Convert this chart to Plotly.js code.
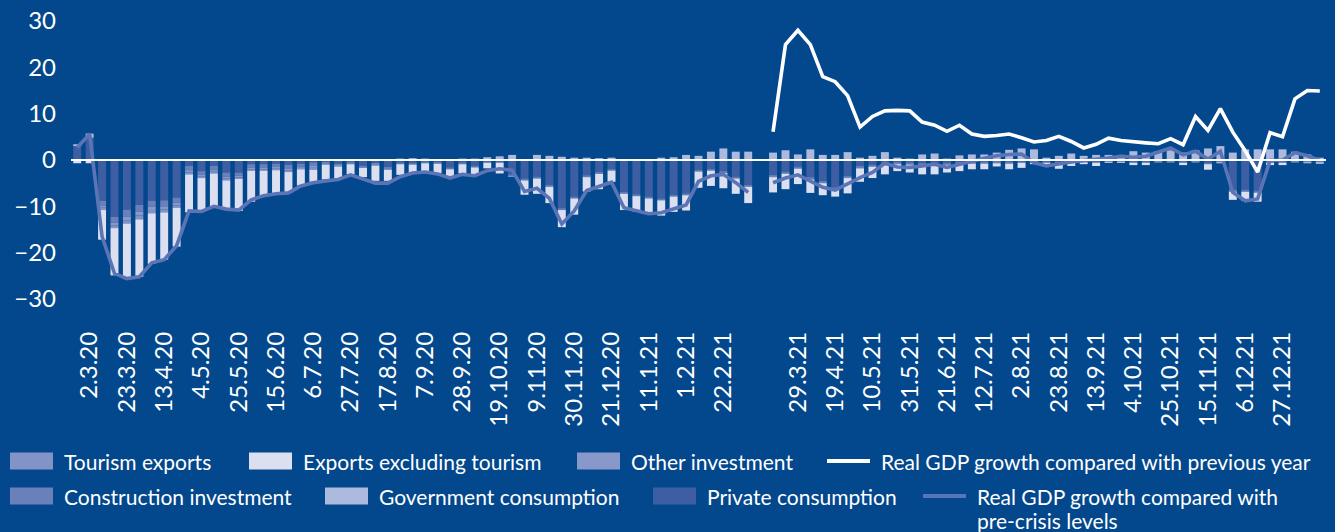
<!DOCTYPE html>
<html>
<head>
<meta charset="utf-8">
<script src="https://cdn.plot.ly/plotly-3.0.1.min.js"></script>
<style>
html,body{margin:0;padding:0;background:#03478c;}
#chart{width:1335px;height:532px;}
</style>
</head>
<body>
<div id="chart"></div>
<script>
// ---- categories (weekly, with one empty slot separating the two comparison periods) ----
const weeks = [
 '24.2.20','2.3.20','9.3.20','16.3.20','23.3.20','30.3.20','6.4.20','13.4.20','20.4.20','27.4.20',
 '4.5.20','11.5.20','18.5.20','25.5.20','1.6.20','8.6.20','15.6.20','22.6.20','29.6.20','6.7.20',
 '13.7.20','20.7.20','27.7.20','3.8.20','10.8.20','17.8.20','24.8.20','31.8.20','7.9.20','14.9.20',
 '21.9.20','28.9.20','5.10.20','12.10.20','19.10.20','26.10.20','2.11.20','9.11.20','16.11.20','23.11.20',
 '30.11.20','7.12.20','14.12.20','21.12.20','28.12.20','4.1.21','11.1.21','18.1.21','25.1.21','1.2.21',
 '8.2.21','15.2.21','22.2.21','1.3.21','8.3.21','gap','15.3.21','22.3.21','29.3.21','5.4.21',
 '12.4.21','19.4.21','26.4.21','3.5.21','10.5.21','17.5.21','24.5.21','31.5.21','7.6.21','14.6.21',
 '21.6.21','28.6.21','5.7.21','12.7.21','19.7.21','26.7.21','2.8.21','9.8.21','16.8.21','23.8.21',
 '30.8.21','6.9.21','13.9.21','20.9.21','27.9.21','4.10.21','11.10.21','18.10.21','25.10.21','1.11.21',
 '8.11.21','15.11.21','22.11.21','29.11.21','6.12.21','13.12.21','20.12.21','27.12.21','3.1.22','10.1.22',
 '17.1.22'
];
const tickLabels = [
 '2.3.20','23.3.20','13.4.20','4.5.20','25.5.20','15.6.20','6.7.20','27.7.20','17.8.20','7.9.20',
 '28.9.20','19.10.20','9.11.20','30.11.20','21.12.20','11.1.21','1.2.21','22.2.21',
 '29.3.21','19.4.21','10.5.21','31.5.21','21.6.21','12.7.21','2.8.21','23.8.21','13.9.21','4.10.21',
 '25.10.21','15.11.21','6.12.21','27.12.21'
];

// ---- series (contributions, percentage points) ----
const privateConsumption = [
 3.0,4.8,-8.8,-12.3,-10.7,-9.7,-8.8,-8.7,-8.1,-1.3,
 -2.4,-1.3,-2.7,-2.7,-0.9,-0.9,-0.8,-1.0,-0.8,-0.5,
 -0.4,-0.8,-0.3,-1.2,-0.6,-1.5,-0.5,-0.6,-0.3,-0.4,
 -1.6,-0.5,-1.2,-0.3,-0.3,-3.1,-4.0,-3.6,-5.4,-10.4,
 -7.9,-3.3,-2.6,-1.9,-6.9,-7.4,-7.9,-8.3,-7.5,-7.2,
 -2.1,-1.9,-2.4,-3.6,-5.4,null,-3.2,-2.5,-1.4,-3.7,
 -4.5,-5.9,-3.4,-1.3,-1.0,-0.6,-0.4,-0.5,-0.6,-0.6,
 -0.6,-0.4,-0.3,-0.3,-0.2,-0.3,-0.3,-0.2,-0.3,-0.4,
 -0.3,-0.2,-0.3,-0.1,-0.1,-0.3,-0.3,-0.1,-0.1,-0.3,
 -0.1,-0.6,-0.2,-6.4,-6.4,-6.6,-0.3,-0.3,-0.1,-0.2,
 -0.2
];
const constructionInvestment = [
 0,0,-1.0,-1.2,-1.5,-1.5,-1.3,-1.3,-1.1,-0.9,
 -0.8,-0.8,-0.9,-0.7,-0.7,-0.7,-0.7,-0.8,-0.6,-0.8,
 -0.3,-0.3,-0.3,-0.3,-0.3,-0.3,-0.2,-0.2,-0.2,-0.2,
 -0.2,-0.2,-0.2,-0.1,-0.1,-0.2,-0.2,-0.2,-0.2,-0.2,
 -0.2,-0.2,-0.2,-0.2,-0.2,-0.2,-0.2,-0.2,-0.2,-0.2,
 -0.2,-0.2,-0.2,-0.2,-0.2,null,-0.2,-0.2,-0.2,-0.2,
 -0.2,-0.2,-0.2,-0.2,-0.2,-0.2,-0.2,-0.2,-0.2,-0.2,
 -0.2,-0.2,-0.2,-0.2,-0.2,-0.2,-0.1,-0.1,-0.1,-0.1,
 -0.1,-0.1,-0.1,-0.1,-0.1,-0.1,-0.1,-0.1,-0.1,-0.1,
 -0.1,-0.1,-0.1,-0.2,-0.2,-0.2,-0.1,-0.1,-0.1,-0.1,
 -0.1
];
const otherInvestment = [
 0,0,-0.5,-0.6,-0.8,-0.8,-0.7,-0.7,-0.6,-0.5,
 -0.4,-0.4,-0.4,-0.4,-0.4,-0.4,-0.4,-0.4,-0.3,-0.4,
 -0.2,-0.2,-0.2,-0.1,-0.2,-0.2,-0.1,-0.1,-0.1,-0.1,
 -0.1,-0.1,-0.1,-0.1,-0.1,-0.1,-0.1,-0.1,-0.1,-0.1,
 -0.1,-0.1,-0.1,-0.1,-0.1,-0.1,-0.1,-0.1,-0.1,-0.1,
 -0.1,-0.1,-0.1,-0.1,-0.1,null,-0.1,-0.1,-0.1,-0.1,
 -0.1,-0.1,-0.1,-0.1,-0.1,-0.1,-0.1,-0.1,-0.1,-0.1,
 -0.1,-0.1,-0.1,-0.1,-0.1,-0.1,-0.1,-0.1,-0.1,-0.1,
 -0.1,-0.1,-0.1,-0.1,-0.1,-0.1,-0.1,-0.1,-0.1,-0.1,
 -0.1,-0.1,-0.1,-0.1,-0.1,-0.1,-0.1,-0.1,-0.1,-0.1,
 -0.1
];
const governmentConsumption = [
 0.4,0.9,0,0,0,0,0,0,0,0,
 0,0,0,0,0,0,0,0,0,0,
 0,0,0,0,0,0,0.3,0.4,0.3,0.2,
 0.2,0.3,0.3,0.6,0.8,1.1,0,1.1,0.9,0.7,
 0.5,0.5,0.4,0.5,0.2,0.1,0.1,0.5,0.6,1.1,
 0.9,1.8,2.5,1.8,1.8,null,1.6,2.1,1.2,2.3,
 1.1,1.1,1.7,0.5,0.9,1.7,0.5,0.3,1.2,1.4,
 0.3,1.0,1.2,1.2,1.6,2.2,2.5,2.3,0.5,0.9,
 1.4,0.9,1.1,1.1,1.1,1.9,1.6,1.9,2.1,1.6,
 2.1,2.5,3.0,1.6,2.3,2.3,2.3,2.3,1.8,1.2,
 0.5
];
const tourismExports = [
 0,0,-0.5,-0.6,-0.7,-0.8,-0.7,-0.6,-0.5,-0.4,
 -0.3,-0.4,-0.4,-0.3,-0.3,-0.3,-0.3,-0.4,-0.3,-0.4,
 -0.1,-0.1,-0.1,-0.1,-0.1,-0.1,-0.1,-0.1,-0.1,-0.1,
 -0.1,-0.1,-0.1,-0.1,-0.1,-0.1,-0.1,-0.1,-0.1,-0.1,
 -0.1,-0.1,-0.1,-0.1,-0.1,-0.1,-0.1,-0.1,-0.1,-0.1,
 -0.1,-0.1,-0.1,-0.1,-0.1,null,-0.2,-0.2,-0.2,-0.2,
 -0.2,-0.2,-0.2,-0.2,-0.2,-0.2,-0.2,-0.2,-0.2,-0.2,
 -0.2,-0.2,-0.2,-0.2,-0.2,-0.2,-0.1,-0.1,-0.1,-0.1,
 -0.1,-0.1,-0.1,-0.1,-0.1,-0.1,-0.1,-0.1,-0.1,-0.1,
 -0.1,-0.1,-0.1,-0.2,-0.2,-0.2,-0.1,-0.1,-0.1,-0.1,
 -0.1
];
const exportsExclTourism = [
 -0.7,-0.7,-6.4,-10.2,-12.0,-12.4,-10.9,-10.2,-8.4,-8.2,
 -7.2,-7.4,-6.2,-6.9,-6.7,-5.4,-5.2,-4.4,-3.5,-2.6,
 -3.2,-2.6,-2.2,-2.0,-3.3,-2.4,-2.3,-2.0,-1.9,-2.0,
 -1.6,-2.0,-1.6,-1.2,-2.3,-0.1,-3.1,-3.3,-3.5,-3.7,
 -3.5,-3.1,-3.3,-2.4,-3.5,-3.3,-3.3,-3.3,-3.3,-3.3,
 -3.5,-3.3,-3.3,-3.3,-3.5,null,-3.3,-3.3,-3.3,-2.9,
 -2.6,-1.5,-3.3,-2.9,-2.4,-2.0,-1.5,-1.7,-2.0,-2.0,
 -1.6,-1.5,-1.2,-1.2,-0.7,-1.2,-1.1,-0.4,-0.7,-1.2,
 -0.7,-0.4,-0.7,-0.2,-0.2,-0.5,-0.5,-0.1,-0.1,-0.5,
 -0.1,-1.2,-0.2,-1.7,-1.9,-1.9,-0.5,-0.5,-0.1,-0.2,
 -0.3
];
const gdpVsPreCrisis = [
 2.7,5.6,-16.5,-24.5,-25.6,-25.2,-22.2,-21.5,-18.5,-11.0,
 -11.1,-10.0,-10.6,-10.8,-8.6,-7.7,-7.3,-7.1,-5.6,-4.9,
 -4.5,-4.2,-3.2,-4.0,-5.0,-5.0,-3.6,-2.8,-2.6,-3.0,
 -3.9,-3.1,-3.4,-2.3,-1.9,-2.2,-6.8,-6.1,-8.3,-13.8,
 -11.0,-6.6,-5.8,-4.8,-10.3,-11.0,-11.6,-11.4,-10.6,-9.7,
 -4.6,-3.4,-3.1,-4.9,-7.0,null,-4.9,-3.9,-3.2,-4.5,
 -5.9,-6.5,-5.1,-3.8,-2.7,-0.7,-1.5,-1.6,-1.3,-0.9,
 -1.6,-0.9,-0.2,0.4,0.9,1.2,1.3,-0.6,-1.3,-0.8,
 -0.4,-0.1,0.1,0.4,0.8,0.6,0.8,1.8,2.6,1.1,
 1.9,0.2,1.9,-7.0,-8.8,-8.4,-0.1,0.0,1.6,0.9,
 -0.1
];
const gdpVsPreviousYear = [
 null,null,null,null,null,null,null,null,null,null,
 null,null,null,null,null,null,null,null,null,null,
 null,null,null,null,null,null,null,null,null,null,
 null,null,null,null,null,null,null,null,null,null,
 null,null,null,null,null,null,null,null,null,null,
 null,null,null,null,null,null,6.1,24.9,28.0,24.9,
 18.0,16.9,13.9,7.1,9.4,10.6,10.7,10.6,8.2,7.5,
 6.2,7.5,5.6,5.1,5.3,5.6,4.8,3.9,4.2,5.1,
 4.0,2.6,3.4,4.7,4.2,3.9,3.7,3.5,4.6,3.3,
 9.4,6.4,11.1,6.0,2.0,-2.6,5.9,5.0,13.2,15.0,
 14.9
];

// ---- styling ----
const BG = '#03478c';
const FONT = 'Lato, "Open Sans", sans-serif';
const colors = {
  tourism: '#8293c7',
  exports: '#dcdff0',
  otherInv: '#8898ca',
  construction: '#6a80bb',
  government: '#aeb9de',
  privateCons: '#3e5ea3',
  yoy: '#ffffff',
  preCrisis: '#5a74b6'
};

function bar(name, y, color) {
  return {type: 'bar', name: name, x: weeks, y: y, marker: {color: color, line: {width: 0}}, hoverinfo: 'x+y+name'};
}
const data = [
  bar('Private consumption', privateConsumption, colors.privateCons),
  bar('Construction investment', constructionInvestment, colors.construction),
  bar('Other investment', otherInvestment, colors.otherInv),
  bar('Government consumption', governmentConsumption, colors.government),
  bar('Tourism exports', tourismExports, colors.tourism),
  bar('Exports excluding tourism', exportsExclTourism, colors.exports),
  {type: 'scatter', mode: 'lines', name: 'Real GDP growth compared with pre-crisis levels', x: weeks, y: gdpVsPreCrisis,
   line: {color: colors.preCrisis, width: 3.6}, connectgaps: false},
  {type: 'scatter', mode: 'lines', name: 'Real GDP growth compared with previous year', x: weeks, y: gdpVsPreviousYear,
   line: {color: colors.yoy, width: 3.6}, connectgaps: false}
];

// ---- manual legend (pixel layout -> paper coords) ----
const W = 1335, H = 532, ML = 71, MR = 9, MT = 21, MB = 233;
const PW = W - ML - MR, PH = H - MT - MB;
const px = v => (v - ML) / PW;
const py = v => (H - MB - v) / PH;

const legendItems = [
  {lines: ['Tourism exports'], color: colors.tourism, kind: 'box', x: 10, y: 461},
  {lines: ['Exports excluding tourism'], color: colors.exports, kind: 'box', x: 249, y: 461},
  {lines: ['Other investment'], color: colors.otherInv, kind: 'box', x: 577, y: 461},
  {lines: ['Real GDP growth compared with previous year'], color: colors.yoy, kind: 'line', x: 827, y: 461},
  {lines: ['Construction investment'], color: colors.construction, kind: 'box', x: 10, y: 496},
  {lines: ['Government consumption'], color: colors.government, kind: 'box', x: 325, y: 496},
  {lines: ['Private consumption'], color: colors.privateCons, kind: 'box', x: 653, y: 496},
  {lines: ['Real GDP growth compared with', 'pre-crisis levels'], color: colors.preCrisis, kind: 'line', x: 923, y: 496}
];

const shapes = [
  {type: 'line', xref: 'paper', yref: 'y', x0: 0, x1: 1, y0: 0, y1: 0, layer: 'above',
   line: {color: '#ffffff', width: 2}}
];
const annotations = [];
legendItems.forEach(it => {
  if (it.kind === 'box') {
    shapes.push({type: 'rect', xref: 'paper', yref: 'paper', x0: px(it.x), x1: px(it.x + 43),
      y0: py(it.y + 8.5), y1: py(it.y - 8.5), fillcolor: it.color, line: {width: 0}, layer: 'above'});
  } else {
    shapes.push({type: 'line', xref: 'paper', yref: 'paper', x0: px(it.x), x1: px(it.x + 43),
      y0: py(it.y), y1: py(it.y), line: {color: it.color, width: 4}, layer: 'above'});
  }
  it.lines.forEach((t, k) => {
    annotations.push({xref: 'paper', yref: 'paper', x: px(it.x + 53), y: py(it.y + k * 24),
      xanchor: 'left', yanchor: 'middle', text: t, showarrow: false, align: 'left',
      borderpad: 0, font: {family: FONT, size: 21, color: '#ffffff'}});
  });
});

const layout = {
  width: W, height: H,
  paper_bgcolor: BG, plot_bgcolor: BG,
  margin: {l: ML, r: MR, t: MT, b: MB, pad: 0},
  barmode: 'relative', bargap: 0.36,
  showlegend: false,
  xaxis: {
    type: 'category', categoryorder: 'array', categoryarray: weeks,
    range: [-0.5, weeks.length - 0.5],
    tickmode: 'array', tickvals: tickLabels, ticktext: tickLabels,
    tickangle: -90, ticks: '', showgrid: false, zeroline: false, showline: false,
    ticklabelstandoff: 27,
    tickfont: {family: FONT, size: 24, color: '#ffffff'}
  },
  yaxis: {
    range: [-30, 30], tickmode: 'array', tickvals: [-30, -20, -10, 0, 10, 20, 30],
    ticks: '', showgrid: false, zeroline: false, showline: false,
    ticklabelstandoff: 14,
    tickfont: {family: FONT, size: 24, color: '#ffffff'}
  },
  shapes: shapes,
  annotations: annotations,
  font: {family: FONT, color: '#ffffff'}
};

Plotly.newPlot('chart', data, layout, {displayModeBar: false, staticPlot: true});
</script>
</body>
</html>
